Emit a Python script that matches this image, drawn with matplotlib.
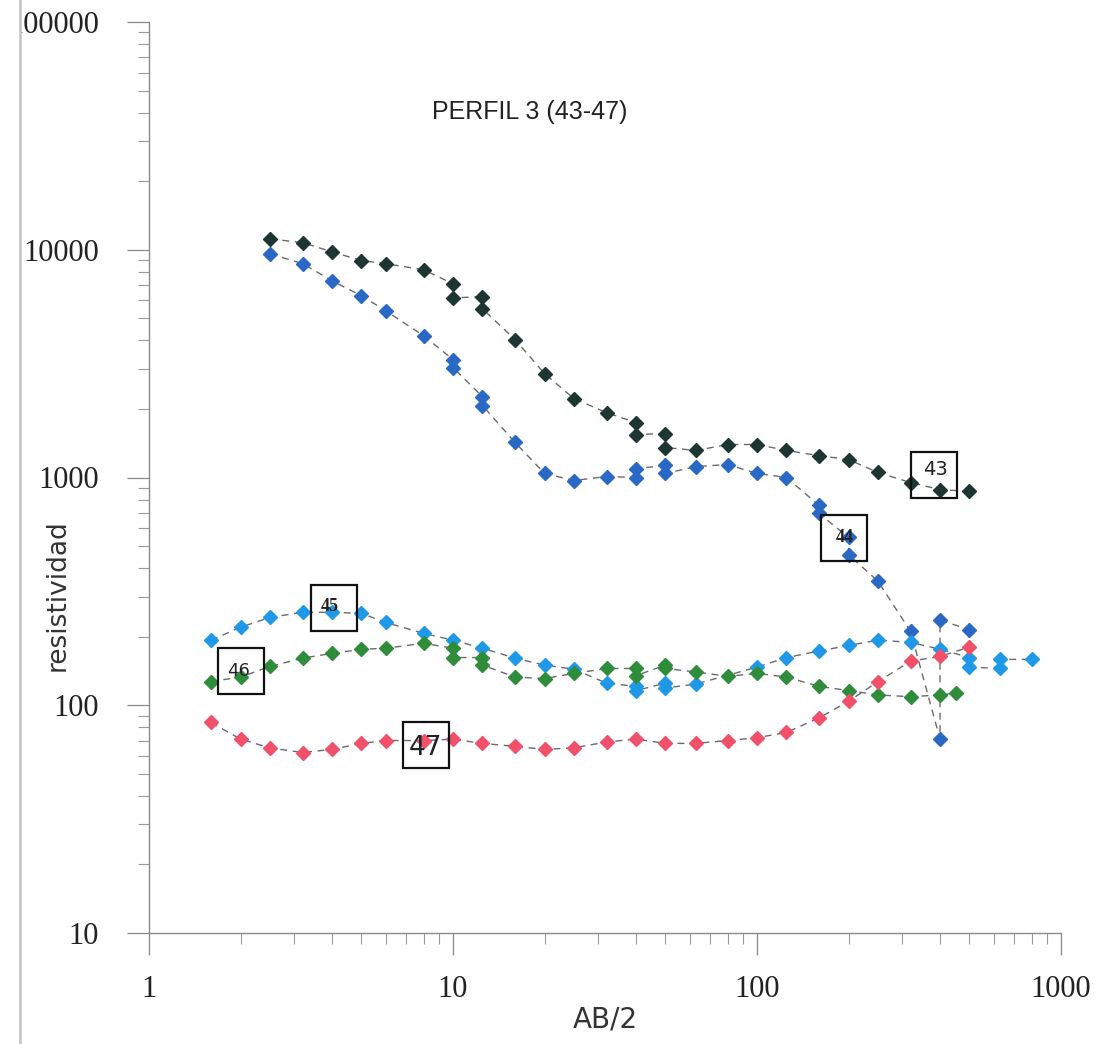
import matplotlib
matplotlib.use('Agg')
import matplotlib.pyplot as plt
from matplotlib.lines import Line2D
from matplotlib.patches import Rectangle
from matplotlib.ticker import LogLocator, NullFormatter, FixedLocator, FixedFormatter

# sondeo 43
ab_43 = [2.5, 3.2, 4, 5, 6, 8, 10, 10, 12.5, 12.5, 16, 20, 25, 32, 40, 40, 50, 50,
         63, 80, 100, 125, 160, 200, 250, 320, 400, 500]
rho_43 = [11170, 10740, 9800, 8960, 8690, 8170, 7090, 6150, 6220, 5510, 4030, 2860,
          2220, 1926, 1743, 1544, 1560, 1354, 1314, 1396, 1396, 1314, 1247, 1199,
          1052, 950, 885, 869]

# sondeo 44
ab_44 = [2.5, 3.2, 4, 5, 6, 8, 10, 10, 12.5, 12.5, 16, 20, 25, 32, 40, 40, 50, 50,
         63, 80, 100, 125, 160, 160, 200, 200, 250, 320, 400, 400, 500]
rho_44 = [9600, 8690, 7310, 6280, 5400, 4195, 3295, 3037, 2265, 2070, 1425, 1042,
          970, 1010, 1000, 1095, 1129, 1042, 1117, 1140, 1042, 1000, 754, 695,
          546, 459, 350, 211, 71, 236, 215]

# sondeo 45
ab_45 = [1.6, 2, 2.5, 3.2, 4, 5, 6, 8, 10, 12.5, 16, 20, 25, 32, 40, 40, 50, 50,
         63, 100, 125, 160, 200, 250, 320, 400, 500, 500, 630, 630, 800]
rho_45 = [193, 220, 243, 256, 256, 253, 231, 207, 193, 178, 161, 150, 144, 125,
          121, 116, 125, 119, 124, 147, 162, 173, 183, 193, 189, 176, 162, 147,
          145, 159, 159]

# sondeo 46
ab_46 = [1.6, 2, 2.5, 3.2, 4, 5, 6, 8, 10, 10, 12.5, 12.5, 16, 20, 25, 32, 40, 40,
         50, 50, 63, 80, 100, 125, 160, 200, 250, 320, 400, 450]
rho_46 = [127, 133, 148, 161, 169, 176, 178, 187, 178, 162, 162, 150, 133, 131,
          138, 145, 145, 135, 150, 145, 140, 134, 138, 133, 121, 116, 111, 109,
          111, 113]

# sondeo 47
ab_47 = [1.6, 2, 2.5, 3.2, 4, 5, 6, 8, 10, 12.5, 16, 20, 25, 32, 40, 50, 63, 80,
         100, 125, 160, 200, 250, 320, 400, 500]
rho_47 = [84, 71, 65, 62, 64, 68, 70, 70, 71, 68, 66, 64, 65, 69, 71, 68, 68, 70,
          72, 76, 88, 104, 127, 156, 164, 180]

x_ticks = [1, 10, 100, 1000]
x_ticklabels = ['1', '10', '100', '1000']
y_ticks = [10, 100, 1000, 10000, 100000]
y_ticklabels = ['10', '100', '1000', '10000', '100000']

series = [
  (ab_43, rho_43, '#1d3631'),
  (ab_44, rho_44, '#2a68c6'),
  (ab_45, rho_45, '#1f98e8'),
  (ab_46, rho_46, '#2e8c3a'),
  (ab_47, rho_47, '#f0506a'),
]

# sounding labels: text, box centre, text anchor
labels = ['43', '44', '45', '46', '47']
box_xy = [(382, 1026), (194, 543), (4.05, 266), (2.01, 141), (8.14, 67.1)]
text_xy = [(387, 1084), (194, 543), (3.92, 272), (1.97, 142), (8.14, 64.7)]
text_style = [
  dict(fontsize=14, family='DejaVu Sans'),
  dict(fontsize=13, family='Liberation Serif', weight='bold'),
  dict(fontsize=13, family='Liberation Serif', weight='bold'),
  dict(fontsize=13, family='DejaVu Sans'),
  dict(fontsize=19, family='DejaVu Sans'),
]

fig = plt.figure(figsize=(11.04, 10.44), dpi=100)
ax = fig.add_axes([149/1104, 111/1044, 912/1104, 911/1044])

for xs, ys, c in series:
  ax.plot(xs, ys, color='#6a6a6a', lw=1.0, ls=(0, (5, 4)), zorder=2)
  ax.plot(xs, ys, ls='none', marker='D', ms=7, color=c, mec=c, zorder=3)

for lab, (bx, by), (tx, ty), st in zip(labels, box_xy, text_xy, text_style):
  ax.plot([bx], [by], marker='s', ms=33, mfc='none', mec='#111111', mew=1.6, zorder=4)
  ax.text(tx, ty, lab, ha='center', va='center', color='#222222', zorder=5, **st)

ax.set_xscale('log')
ax.set_yscale('log')
ax.set_xlim(1, 1000)
ax.set_ylim(10, 100000)

ax.xaxis.set_major_locator(FixedLocator(x_ticks))
ax.xaxis.set_major_formatter(FixedFormatter(x_ticklabels))
ax.yaxis.set_major_locator(FixedLocator(y_ticks))
ax.yaxis.set_major_formatter(FixedFormatter(y_ticklabels))
ax.xaxis.set_minor_locator(LogLocator(base=10, subs=range(2, 10)))
ax.yaxis.set_minor_locator(LogLocator(base=10, subs=range(2, 10)))
ax.xaxis.set_minor_formatter(NullFormatter())
ax.yaxis.set_minor_formatter(NullFormatter())

for s in ['top', 'right']:
  ax.spines[s].set_visible(False)
for s in ['left', 'bottom']:
  ax.spines[s].set_color('#8a8a8a')
  ax.spines[s].set_linewidth(1.0)

ax.tick_params(which='major', length=16, width=0.9, color='#8a8a8a',
               labelsize=22, labelcolor='#222222')
ax.tick_params(axis='y', which='major', pad=20)
ax.tick_params(axis='x', which='major', pad=14)
ax.tick_params(which='minor', length=8, width=0.8, color='#9a9a9a')
for lbl in ax.get_xticklabels() + ax.get_yticklabels():
  lbl.set_family('Liberation Serif')

fig.text(432/1104, 1 - 112/1044, 'PERFIL 3 (43-47)', fontsize=18, family='Liberation Sans',
         ha='left', va='center', color='#222222')
fig.text(58/1104, 1 - 595/1044, 'resistividad', rotation=90, fontsize=19,
         family='DejaVu Sans', ha='center', va='center', color='#333333')
fig.text(605/1104, 1 - 1020/1044, 'AB/2', fontsize=20, family='DejaVu Sans',
         ha='center', va='center', color='#333333')

# scan border on the left
fig.add_artist(Rectangle((0, 0), 20/1104, 1, transform=fig.transFigure,
                         fc='white', ec='none', zorder=10))
fig.add_artist(Line2D([20/1104, 20/1104], [0, 1], transform=fig.transFigure,
                      color='#c8c8c8', lw=2, zorder=11))

fig.savefig('out.png', dpi=100)
